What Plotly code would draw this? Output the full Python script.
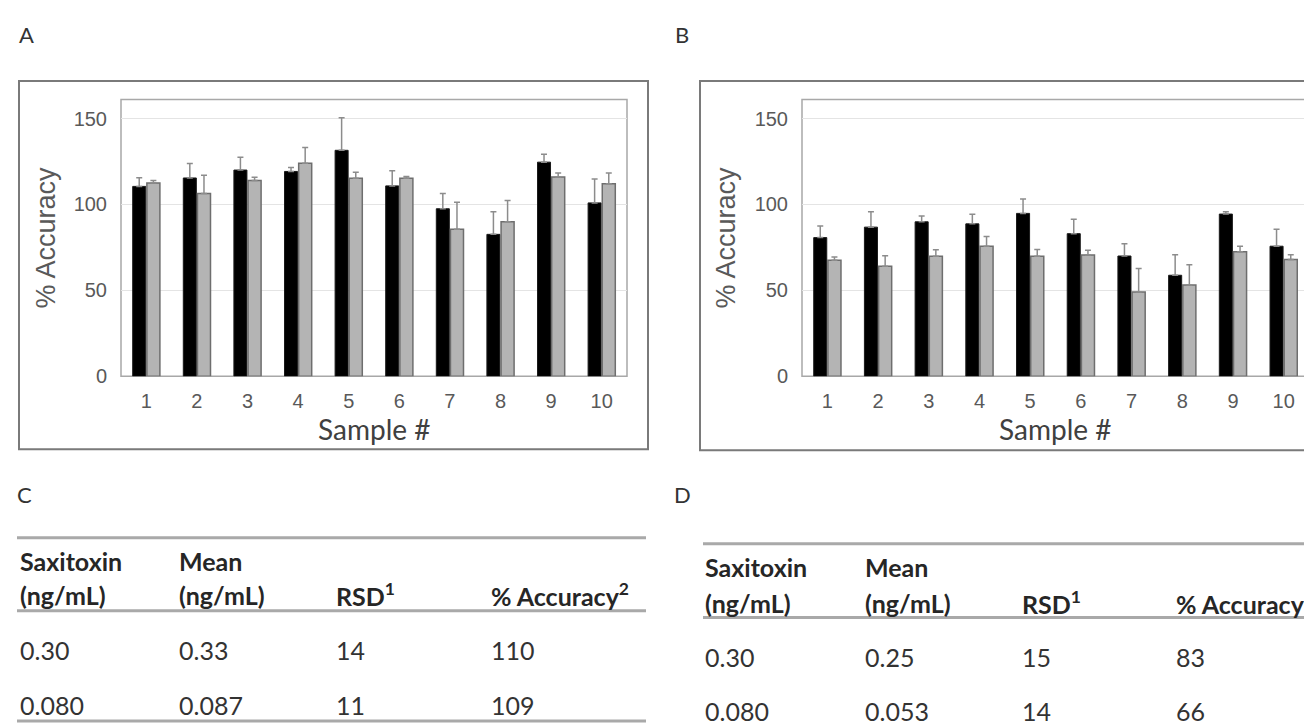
import plotly.graph_objects as go

W, H = 1312, 726

samples = ["1", "2", "3", "4", "5", "6", "7", "8", "9", "10"]
y_ticks = [0, 50, 100, 150]

a_black = [110.5, 115.4, 120.0, 119.2, 131.5, 110.8, 97.5, 82.6, 124.6, 100.9]
a_black_err = [5.1, 8.4, 7.4, 2.3, 19.0, 8.8, 8.8, 13.2, 4.6, 13.9]
a_gray = [112.5, 106.3, 114.0, 124.0, 115.3, 115.3, 85.5, 89.9, 116.0, 112.0]
a_gray_err = [1.5, 10.7, 1.8, 9.1, 3.4, 0.9, 15.8, 12.4, 2.3, 6.3]

b_black = [80.7, 86.8, 89.9, 88.7, 94.8, 83.0, 70.0, 58.8, 94.4, 75.7]
b_black_err = [6.7, 9.0, 3.4, 5.6, 8.4, 8.4, 7.1, 12.0, 1.4, 9.9]
b_gray = [67.5, 64.1, 69.8, 75.7, 69.8, 70.6, 49.0, 53.2, 72.5, 67.9]
b_gray_err = [1.9, 6.1, 3.8, 5.6, 4.0, 2.7, 13.8, 11.7, 3.2, 2.9]

panel_labels = ["A", "B", "C", "D"]
y_title = "% Accuracy"
x_title = "Sample #"

header_line1 = ["Saxitoxin", "Mean", "", ""]
header_line2 = ["(ng/mL)", "(ng/mL)", "RSD<sup>1</sup>", "% Accuracy<sup>2</sup>"]
c_rows = [["0.30", "0.33", "14", "110"], ["0.080", "0.087", "11", "109"]]
d_rows = [["0.30", "0.25", "15", "83"], ["0.080", "0.053", "14", "66"]]


def px_x(v):
    return v / W


def px_y(v):
    return 1 - v / H


fig = go.Figure()

BLACK = "#000000"
GRAY = "#b4b4b4"
ERR = "#8c8c8c"

for xa, ya, blk, blk_e, gr, gr_e in [
    ("x", "y", a_black, a_black_err, a_gray, a_gray_err),
    ("x2", "y2", b_black, b_black_err, b_gray, b_gray_err),
]:
    fig.add_trace(go.Bar(
        x=samples, y=blk, xaxis=xa, yaxis=ya, showlegend=False,
        marker=dict(color=BLACK, line=dict(color="#1a1a1a", width=1)),
        error_y=dict(type="data", symmetric=False, array=blk_e,
                     arrayminus=[0] * len(blk_e), color=ERR, thickness=1.5, width=3),
    ))
    fig.add_trace(go.Bar(
        x=samples, y=gr, xaxis=xa, yaxis=ya, showlegend=False,
        marker=dict(color=GRAY, line=dict(color="#6e6e6e", width=1.5)),
        error_y=dict(type="data", symmetric=False, array=gr_e,
                     arrayminus=[0] * len(gr_e), color=ERR, thickness=1.5, width=3),
    ))

plot_top, plot_bot = 93, 374
dom_y = [px_y(plot_bot), px_y(plot_top)]
dom_a = [px_x(113), px_x(619)]
dom_b = [px_x(794), px_x(1301)]

tickfont = dict(family="Liberation Sans, Arial", size=20, color="#595959")
yax = dict(range=[0, 161], tickvals=y_ticks, showgrid=True, gridcolor="#e4e4e4",
           gridwidth=1, zeroline=False, showline=False, ticks="",
           tickfont=tickfont, ticklabelstandoff=13, fixedrange=True)
xax = dict(type="category", showgrid=False, zeroline=False, showline=False, ticks="",
           tickfont=tickfont, ticklabelstandoff=11, range=[-0.5, 9.5])

fig.update_layout(
    width=W, height=H, margin=dict(l=0, r=0, t=0, b=0),
    paper_bgcolor="white", plot_bgcolor="white",
    barmode="group", bargap=0.44, bargroupgap=0.08,
    xaxis=dict(domain=dom_a, anchor="y", **xax),
    yaxis=dict(domain=dom_y, anchor="x", **yax),
    xaxis2=dict(domain=dom_b, anchor="y2", **xax),
    yaxis2=dict(domain=dom_y, anchor="x2", **yax),
)

shapes = []
# outer boxes
shapes.append(dict(type="rect", xref="paper", yref="paper",
                   x0=px_x(11), x1=px_x(640), y0=px_y(448), y1=px_y(74),
                   line=dict(color="#7a7a7a", width=2)))
shapes.append(dict(type="rect", xref="paper", yref="paper",
                   x0=px_x(692), x1=px_x(1320), y0=px_y(449), y1=px_y(74),
                   line=dict(color="#7a7a7a", width=2)))
# inner plot borders
for xr, yr in [("x domain", "y domain"), ("x2 domain", "y2 domain")]:
    shapes.append(dict(type="rect", xref=xr, yref=yr, x0=0, x1=1, y0=0, y1=1,
                       line=dict(color="#a8a8a8", width=1.5), layer="below"))

annotations = []
lab_font = dict(family="Lato", size=22, color="#333333")
for lab, (lx, ly) in zip(panel_labels, [(18, 27), (674, 27), (16, 494), (674, 494)]):
    annotations.append(dict(text=lab, x=px_x(lx), y=px_y(ly), xref="paper", yref="paper",
                            showarrow=False, xanchor="center", yanchor="middle", font=lab_font))

ytitle_font = dict(family="Liberation Sans, Arial", size=27, color="#595959")
xtitle_font = dict(family="Lato", size=28, color="#404040")
for cx, ycx in [(366, 38), (1047, 718)]:
    annotations.append(dict(text=x_title, x=px_x(cx), y=px_y(427), xref="paper", yref="paper",
                            showarrow=False, xanchor="center", yanchor="middle", font=xtitle_font))
    annotations.append(dict(text=y_title, x=px_x(ycx), y=px_y(233), xref="paper", yref="paper",
                            showarrow=False, xanchor="center", yanchor="middle", textangle=-90,
                            font=ytitle_font))

# tables
head_font = dict(family="Lato", size=25, color="#262626", weight="bold")
cell_font = dict(family="Lato", size=25, color="#333333")
RULE = "#a9a9a9"


def add_table(cols_x, x0, x1, y_top, y_h1, y_h2, y_rule, y_rows, y_bottom, rows):
    for y in [y_top, y_rule] + ([y_bottom] if y_bottom is not None else []):
        shapes.append(dict(type="line", xref="paper", yref="paper",
                           x0=px_x(x0), x1=px_x(x1), y0=px_y(y), y1=px_y(y),
                           line=dict(color=RULE, width=3)))
    for cx, t1, t2 in zip(cols_x, header_line1, header_line2):
        if t1:
            annotations.append(dict(text=t1, x=px_x(cx), y=px_y(y_h1), xref="paper", yref="paper",
                                    showarrow=False, xanchor="left", yanchor="middle", font=head_font))
        annotations.append(dict(text=t2, x=px_x(cx), y=px_y(y_h2), xref="paper", yref="paper",
                                showarrow=False, xanchor="left", yanchor="middle", font=head_font))
    for yr, row in zip(y_rows, rows):
        for cx, t in zip(cols_x, row):
            annotations.append(dict(text=t, x=px_x(cx), y=px_y(yr), xref="paper", yref="paper",
                                    showarrow=False, xanchor="left", yanchor="middle", font=cell_font))


add_table([10, 169, 326, 481], 9, 638, 538, 561, 596, 612, [652, 708], 724, c_rows)
add_table([695, 855, 1012, 1166], 695, 1312, 544, 568, 604, 619, [659, 714], None, d_rows)

fig.update_layout(shapes=shapes, annotations=annotations)
fig.write_html("out.html")
